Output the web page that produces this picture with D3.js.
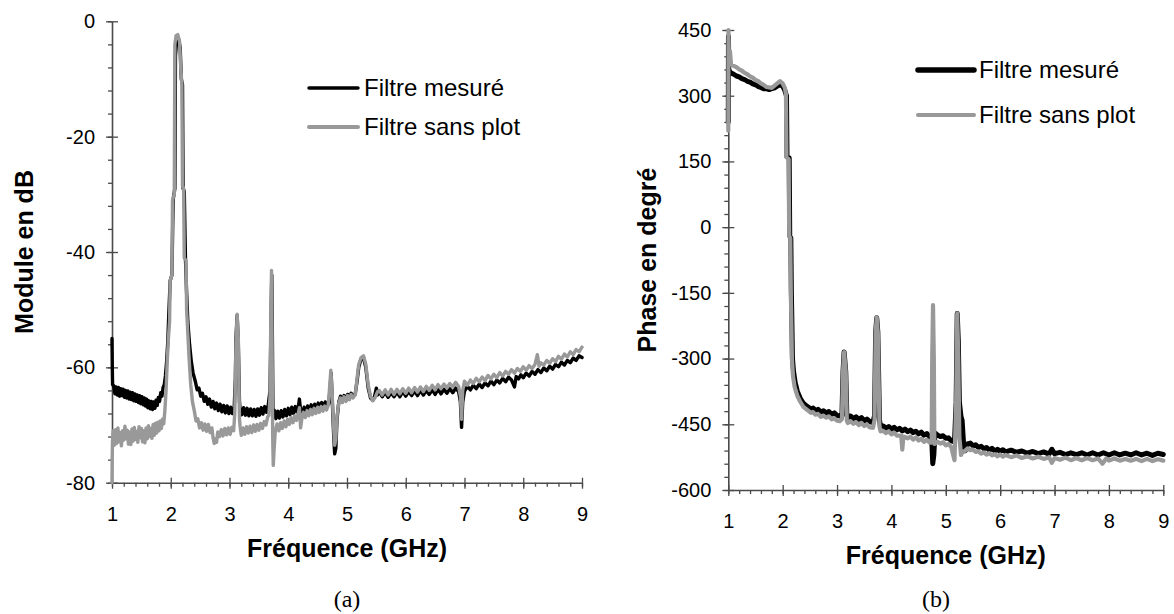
<!DOCTYPE html>
<html>
<head>
<meta charset="utf-8">
<script src="https://cdn.jsdelivr.net/npm/d3@7"></script>
<style>
  html, body { margin: 0; padding: 0; background: #fff; }
  svg { display: block; }
</style>
</head>
<body>
<svg id="fig" width="1174" height="614"></svg>
<script>
// ---- data : [frequency GHz, value] ----
const freqTicks = [1, 2, 3, 4, 5, 6, 7, 8, 9];
const moduleTicks = [0, -20, -40, -60, -80];
const phaseTicks = [450, 300, 150, 0, -150, -300, -450, -600];
const seriesNames = ["Filtre mesuré", "Filtre sans plot"];

// Module (dB) - measured filter
const moduleMesure = [
  [1.000,-55],[1.005,-60],[1.010,-63],
  [1.03,-63.2],[1.05,-64.6],[1.07,-63.4],[1.09,-64.8],[1.11,-63.5],[1.13,-65.0],[1.15,-63.7],[1.17,-64.9],
  [1.19,-63.8],[1.21,-65.2],[1.23,-64.0],[1.25,-65.3],[1.27,-64.1],[1.29,-65.5],[1.31,-64.3],[1.33,-65.6],
  [1.35,-64.4],[1.37,-65.8],[1.39,-64.6],[1.41,-65.9],[1.43,-64.8],[1.45,-66.1],[1.47,-64.9],[1.49,-66.3],
  [1.51,-65.1],[1.53,-66.5],[1.55,-65.3],[1.57,-66.7],[1.59,-65.5],[1.61,-67.0],[1.63,-65.8],[1.65,-67.2],
  [1.67,-65.9],[1.69,-67.3],[1.71,-66.0],[1.73,-67.1],[1.75,-65.7],[1.77,-66.6],[1.79,-65.2],[1.81,-65.9],
  [1.83,-64.4],[1.85,-65.0],[1.87,-63.5],[1.89,-63.0],
  [1.91,-61.5],[1.93,-59.0],[1.95,-55.5],[1.97,-50],[1.99,-45],[2.02,-44],[2.04,-31],[2.07,-29],
  [2.08,-6],[2.10,-3.5],[2.13,-3.0],[2.16,-4.5],[2.18,-10],[2.20,-11],[2.21,-29],[2.23,-29.5],
  [2.25,-41],[2.27,-47],[2.29,-52],[2.32,-56],[2.35,-59],[2.38,-61],
  [2.42,-62.5],[2.45,-63.9],[2.48,-63.6],[2.51,-65.0],[2.54,-64.5],[2.57,-65.9],[2.60,-65.1],[2.63,-66.4],
  [2.66,-65.5],[2.69,-66.9],[2.72,-65.9],[2.75,-67.2],[2.78,-66.2],[2.81,-67.5],[2.84,-66.4],[2.87,-67.7],
  [2.90,-66.6],[2.93,-67.9],[2.96,-66.7],[2.99,-68.0],[3.02,-66.9],[3.05,-68.0],[3.08,-67.0],
  [3.10,-62],[3.11,-55],[3.13,-51],[3.15,-56],[3.17,-66],
  [3.18,-67.2],[3.21,-68.2],[3.24,-67.0],[3.27,-68.3],[3.30,-67.1],[3.33,-68.4],[3.36,-67.2],[3.39,-68.4],
  [3.42,-67.3],[3.45,-68.5],[3.48,-67.2],[3.51,-68.3],[3.54,-67.0],[3.57,-68.1],[3.60,-66.8],[3.63,-67.8],
  [3.66,-66.5],[3.69,-64],[3.71,-50],[3.72,-44],[3.73,-55],[3.74,-68],
  [3.76,-67.4],[3.79,-68.9],[3.82,-67.6],[3.85,-68.8],[3.88,-67.5],[3.91,-68.6],[3.94,-67.3],[3.97,-68.4],
  [4.00,-67.1],[4.03,-68.2],[4.06,-66.9],[4.09,-68.0],[4.12,-66.8],[4.15,-67.7],[4.18,-66.3],[4.19,-65.5],
  [4.21,-67.5],[4.24,-68.3],[4.27,-66.9],[4.30,-67.9],[4.33,-66.7],[4.36,-67.7],[4.39,-66.5],[4.42,-67.5],
  [4.45,-66.4],[4.48,-67.3],[4.51,-66.2],[4.54,-67.2],[4.57,-66.1],[4.60,-67.0],[4.63,-66.0],[4.66,-66.8],
  [4.69,-66.3],[4.71,-64],[4.73,-61],[4.75,-66],[4.77,-71],[4.79,-75],[4.81,-74],[4.83,-69],[4.86,-66],
  [4.89,-65.0],[4.92,-66.0],[4.95,-64.9],[4.98,-65.8],[5.01,-64.7],[5.04,-65.5],[5.07,-64.5],[5.10,-65.2],
  [5.14,-64.6],[5.17,-62.5],[5.20,-60.0],[5.24,-58.5],[5.28,-58.3],[5.32,-60.0],[5.36,-63.5],[5.40,-65.3],
  [5.44,-65.7],[5.47,-65.0],[5.50,-63.6],[5.52,-64.8],
  [5.55,-64.2],[5.60,-65.1],[5.65,-64.3],[5.70,-65.2],[5.75,-64.4],[5.80,-65.1],[5.85,-64.3],[5.90,-65.1],
  [5.95,-64.2],[6.00,-65.0],[6.05,-64.2],[6.10,-64.9],[6.15,-64.1],[6.20,-64.9],[6.25,-64.0],[6.30,-64.8],
  [6.35,-64.0],[6.40,-64.7],[6.45,-63.9],[6.50,-64.7],[6.55,-63.8],[6.60,-64.6],[6.65,-63.8],[6.70,-64.5],
  [6.75,-63.7],[6.80,-64.4],[6.85,-63.6],[6.90,-64.2],[6.93,-66],[6.95,-70.4],[6.97,-66],[7.00,-64.1],
  [7.05,-63.3],[7.10,-63.9],[7.15,-63.1],[7.20,-63.7],[7.25,-62.9],[7.30,-63.5],[7.35,-62.7],[7.40,-63.2],
  [7.45,-62.4],[7.50,-63.0],[7.55,-62.2],[7.60,-62.7],[7.65,-61.9],[7.70,-62.5],[7.75,-61.7],[7.80,-62.2],
  [7.85,-63.4],[7.88,-61.6],[7.92,-62.0],[7.96,-61.3],[8.00,-61.8],[8.05,-61.0],[8.10,-61.5],[8.15,-60.7],
  [8.20,-61.2],[8.25,-60.4],[8.30,-60.9],[8.35,-60.1],[8.40,-60.6],[8.45,-59.8],[8.50,-60.3],[8.55,-59.5],
  [8.60,-59.9],[8.65,-59.1],[8.70,-59.6],[8.75,-58.8],[8.80,-59.2],[8.85,-58.4],[8.90,-58.8],[8.95,-58.0],
  [9.00,-58.3]
];

// Module (dB) - filter without pad
const moduleSansPlot = [
  [1.000,-80],[1.003,-76],[1.008,-73],
  [1.02,-71.0],[1.04,-73.5],[1.06,-70.8],[1.08,-73.2],[1.10,-70.5],[1.12,-72.9],[1.14,-71.3],[1.16,-73.6],
  [1.18,-71.0],[1.20,-72.6],[1.22,-70.2],[1.24,-72.4],[1.26,-70.9],[1.28,-73.3],[1.30,-71.2],[1.32,-73.4],
  [1.34,-70.7],[1.36,-72.8],[1.38,-70.4],[1.40,-72.5],[1.42,-71.1],[1.44,-73.0],[1.46,-70.3],[1.48,-72.2],
  [1.50,-70.6],[1.52,-72.9],[1.54,-71.0],[1.56,-73.1],[1.58,-70.5],[1.60,-72.4],[1.62,-70.1],[1.64,-72.0],
  [1.66,-70.6],[1.68,-72.3],[1.70,-69.9],[1.72,-71.8],[1.74,-69.7],[1.76,-71.4],[1.78,-69.5],[1.80,-71.0],
  [1.82,-69.3],[1.84,-70.6],[1.86,-69.0],[1.88,-69.8],[1.90,-67.5],
  [1.92,-64],[1.94,-59],[1.96,-55],[1.98,-52],[1.99,-45],[2.02,-44],
  [2.03,-31],[2.06,-30],[2.07,-4],[2.09,-2.5],[2.12,-2.3],[2.15,-3.5],[2.17,-8],[2.19,-11],
  [2.20,-28.5],[2.22,-29],[2.23,-41],[2.26,-41.5],[2.27,-50],[2.29,-54],[2.31,-58],[2.34,-63],
  [2.37,-66],[2.40,-67.5],
  [2.43,-69.3],[2.46,-68.9],[2.49,-70.5],[2.52,-69.6],[2.55,-70.9],[2.58,-69.8],[2.61,-71.1],[2.64,-69.9],
  [2.67,-71.3],[2.70,-70.5],[2.72,-72.2],[2.74,-73.2],[2.76,-72.4],[2.78,-73.0],[2.80,-71.2],[2.83,-72.0],
  [2.86,-70.8],[2.89,-71.9],[2.92,-70.6],[2.95,-71.7],[2.98,-70.5],[3.01,-71.6],[3.04,-70.4],[3.07,-71.0],
  [3.09,-68],[3.11,-56],[3.13,-50.8],[3.15,-55],[3.17,-69],
  [3.18,-70.2],[3.20,-71.8],[3.23,-70.5],[3.26,-71.6],[3.29,-70.3],[3.32,-71.4],[3.35,-70.2],[3.38,-71.3],
  [3.41,-70.0],[3.44,-71.1],[3.47,-69.9],[3.50,-70.9],[3.53,-69.7],[3.56,-70.6],[3.59,-69.4],[3.62,-70.0],
  [3.65,-68.6],[3.67,-68.3],[3.69,-65],[3.705,-50],[3.715,-43.2],[3.725,-55],[3.735,-72],[3.745,-77],
  [3.76,-74],[3.78,-71.0],[3.81,-69.8],[3.84,-71.0],[3.87,-69.6],[3.90,-70.6],[3.93,-69.3],[3.96,-70.3],
  [3.99,-69.0],[4.02,-69.9],[4.05,-68.7],[4.08,-69.6],[4.11,-68.4],[4.14,-69.2],[4.17,-68.0],[4.19,-67.0],
  [4.21,-70.5],[4.23,-69.0],[4.26,-67.8],[4.29,-68.7],[4.32,-67.5],[4.35,-68.4],[4.38,-67.3],[4.41,-68.2],
  [4.44,-67.1],[4.47,-68.0],[4.50,-66.9],[4.53,-67.8],[4.56,-66.8],[4.59,-67.6],[4.62,-66.7],[4.65,-67.4],
  [4.68,-66.6],[4.70,-64],[4.725,-60.5],[4.745,-64],[4.77,-70],[4.79,-73.5],[4.81,-72.5],[4.83,-68.5],
  [4.86,-66.2],[4.89,-65.3],[4.92,-66.1],[4.95,-65.1],[4.98,-65.9],[5.01,-64.9],[5.04,-65.6],[5.07,-64.7],
  [5.10,-65.3],[5.14,-64.8],[5.17,-62],[5.20,-59.5],[5.24,-58.3],[5.28,-58.0],[5.32,-59.5],[5.36,-63],
  [5.40,-65],[5.44,-65.8],[5.48,-65.2],[5.52,-64.2],
  [5.55,-64.0],[5.60,-64.8],[5.65,-63.9],[5.70,-64.8],[5.75,-63.8],[5.80,-64.7],[5.85,-63.8],[5.90,-64.6],
  [5.95,-63.7],[6.00,-64.5],[6.05,-63.6],[6.10,-64.4],[6.15,-63.5],[6.20,-64.3],[6.25,-63.4],[6.30,-64.2],
  [6.35,-63.3],[6.40,-64.0],[6.45,-63.1],[6.50,-63.9],[6.55,-63.0],[6.60,-63.7],[6.65,-62.9],[6.70,-63.6],
  [6.75,-62.8],[6.80,-63.4],[6.85,-62.6],[6.90,-63.3],[6.93,-65],[6.95,-69],[6.97,-64],[7.00,-62.4],
  [7.05,-63.1],[7.10,-62.2],[7.15,-62.8],[7.20,-61.9],[7.25,-62.5],[7.30,-61.7],[7.35,-62.3],[7.40,-61.4],
  [7.45,-62.0],[7.50,-61.2],[7.55,-61.8],[7.60,-60.9],[7.65,-61.5],[7.70,-60.7],[7.75,-61.2],[7.80,-60.4],
  [7.85,-61.0],[7.90,-60.2],[7.95,-60.7],[8.00,-59.9],[8.05,-60.5],[8.10,-59.7],[8.15,-60.2],[8.20,-59.5],
  [8.24,-57.8],[8.27,-59.8],[8.30,-59.2],[8.35,-59.6],[8.40,-58.8],[8.45,-59.3],[8.50,-58.5],[8.55,-59.0],
  [8.60,-58.1],[8.65,-58.6],[8.70,-57.7],[8.75,-58.2],[8.80,-57.3],[8.85,-57.8],[8.90,-56.9],[8.95,-57.3],
  [9.00,-56.5]
];

// Phase (degrees) - measured filter
const phaseMesure = [
  [1.000,240],[1.003,435],[1.008,362],[1.02,356],[1.05,352],[1.10,349],[1.15,345],[1.20,343],
  [1.25,339],[1.30,337],[1.35,333],[1.40,331],[1.45,327],[1.50,325],[1.55,321],[1.60,319],
  [1.65,316],[1.70,316],[1.75,314],[1.80,316],[1.85,318],[1.90,322],[1.95,326],[2.00,322],
  [2.04,312],[2.07,300],[2.08,160],[2.12,158],[2.13,-20],[2.15,-25],[2.16,-150],[2.17,-220],
  [2.18,-300],[2.20,-330],[2.23,-355],[2.27,-375],[2.32,-390],[2.38,-402],[2.45,-409],[2.52,-415],
  [2.56,-413],[2.60,-419],[2.65,-416],[2.70,-422],[2.75,-419],[2.80,-424],[2.85,-421],[2.90,-427],
  [2.95,-424],[3.00,-430],[3.05,-431],[3.09,-428],[3.11,-330],[3.13,-285],[3.16,-330],[3.18,-430],
  [3.20,-435],[3.25,-431],[3.30,-437],[3.35,-433],[3.40,-439],[3.45,-435],[3.50,-442],[3.55,-438],
  [3.60,-444],[3.66,-446],[3.69,-430],[3.71,-240],[3.73,-207],[3.75,-240],[3.78,-440],[3.80,-455],
  [3.85,-454],[3.90,-459],[3.95,-455],[4.00,-461],[4.05,-457],[4.10,-463],[4.15,-459],[4.20,-465],
  [4.25,-461],[4.30,-467],[4.35,-463],[4.40,-469],[4.45,-466],[4.50,-472],[4.55,-468],[4.60,-475],
  [4.65,-471],[4.70,-478],[4.74,-481],[4.76,-540],[4.78,-520],[4.80,-470],[4.85,-475],[4.90,-478],
  [4.95,-476],[5.00,-482],[5.05,-481],[5.10,-488],[5.16,-490],[5.19,-400],[5.21,-197],[5.23,-260],
  [5.25,-400],[5.28,-433],[5.30,-441],[5.33,-500],[5.36,-510],[5.40,-495],[5.45,-493],[5.50,-499],
  [5.55,-497],[5.60,-503],[5.65,-500],[5.70,-506],[5.75,-503],[5.80,-509],[5.85,-505],[5.90,-511],
  [5.95,-507],[6.00,-512],[6.05,-508],[6.10,-513],[6.20,-509],[6.30,-514],[6.40,-511],[6.50,-516],
  [6.60,-512],[6.70,-517],[6.80,-513],[6.90,-518],[6.95,-507],[7.00,-517],[7.10,-514],[7.20,-519],
  [7.30,-515],[7.40,-519],[7.50,-515],[7.60,-520],[7.70,-515],[7.80,-520],[7.90,-515],[8.00,-520],
  [8.10,-515],[8.20,-520],[8.30,-516],[8.40,-520],[8.50,-515],[8.60,-520],[8.70,-516],[8.80,-521],
  [8.90,-516],[9.00,-519]
];

// Phase (degrees) - filter without pad
const phaseSansPlot = [
  [1.000,220],[1.003,450],[1.01,390],[1.03,402],[1.05,372],[1.10,368],[1.15,365],[1.20,360],
  [1.25,357],[1.30,352],[1.35,349],[1.40,344],[1.45,341],[1.50,336],[1.55,333],[1.60,328],
  [1.65,325],[1.70,320],[1.75,319],[1.80,318],[1.85,323],[1.90,328],[1.95,333],[2.00,328],
  [2.04,318],[2.06,305],[2.07,160],[2.11,155],[2.12,-20],[2.14,-25],[2.15,-150],[2.16,-220],
  [2.17,-300],[2.19,-340],[2.22,-365],[2.27,-385],[2.32,-398],[2.38,-410],[2.45,-417],[2.52,-424],
  [2.56,-422],[2.60,-428],[2.65,-426],[2.70,-433],[2.75,-430],[2.80,-435],[2.85,-432],[2.90,-439],
  [2.95,-436],[3.00,-442],[3.05,-443],[3.09,-438],[3.11,-330],[3.13,-285],[3.16,-330],[3.18,-442],
  [3.20,-447],[3.25,-443],[3.30,-449],[3.35,-445],[3.40,-452],[3.45,-447],[3.50,-454],[3.55,-450],
  [3.60,-457],[3.66,-458],[3.69,-440],[3.71,-240],[3.73,-206],[3.75,-240],[3.78,-455],[3.80,-466],
  [3.85,-465],[3.90,-470],[3.95,-466],[4.00,-473],[4.05,-469],[4.10,-476],[4.18,-476],[4.20,-508],
  [4.22,-478],[4.30,-482],[4.35,-478],[4.40,-485],[4.45,-480],[4.50,-487],[4.55,-483],[4.60,-490],
  [4.65,-485],[4.70,-492],[4.74,-492],[4.75,-300],[4.765,-178],[4.78,-300],[4.79,-495],[4.85,-490],
  [4.90,-494],[4.95,-491],[5.00,-498],[5.05,-495],[5.10,-502],[5.16,-532],[5.19,-400],[5.21,-197],
  [5.23,-300],[5.25,-480],[5.28,-520],[5.30,-515],[5.36,-510],[5.40,-505],[5.45,-509],[5.50,-508],
  [5.55,-513],[5.60,-512],[5.65,-517],[5.70,-514],[5.75,-519],[5.80,-516],[5.85,-521],[5.90,-518],
  [5.95,-523],[6.00,-519],[6.05,-524],[6.10,-520],[6.20,-525],[6.30,-521],[6.40,-527],[6.50,-523],
  [6.60,-528],[6.70,-524],[6.80,-529],[6.90,-525],[6.95,-538],[7.00,-527],[7.10,-531],[7.20,-526],
  [7.30,-532],[7.40,-527],[7.50,-532],[7.60,-527],[7.70,-532],[7.80,-528],[7.88,-540],[7.95,-528],
  [8.00,-533],[8.10,-528],[8.20,-533],[8.30,-529],[8.40,-533],[8.50,-529],[8.60,-534],[8.70,-529],
  [8.80,-534],[8.90,-530],[9.00,-533]
];

// ---- drawing ----
const svg = d3.select("#fig");
const FONT = '"Liberation Sans", Arial, sans-serif';
const AXIS_COLOR = "#4a4a4a";

function minorValues(domain, step) {
  const out = [];
  const n = Math.round((domain[1] - domain[0]) / step);
  for (let i = 0; i <= n; i++) out.push(+(domain[0] + i * step).toFixed(6));
  return out;
}

function drawPanel(cfg) {
  const g = svg.append("g");
  const x = d3.scaleLinear().domain([1, 9]).range(cfg.xRange);
  const y = d3.scaleLinear().domain(cfg.yDomain).range(cfg.yRange);
  const x0 = cfg.xRange[0], yb = cfg.yRange[0];

  // minor ticks
  g.append("g").attr("transform", `translate(${x0},0)`)
    .call(d3.axisLeft(y).tickValues(minorValues(cfg.yDomain, cfg.yMinor)).tickSize(4).tickFormat(""))
    .call(a => a.select(".domain").remove());
  g.append("g").attr("transform", `translate(0,${yb})`)
    .call(d3.axisBottom(x).tickValues(minorValues([1, 9], 0.2)).tickSize(4).tickFormat(""))
    .call(a => a.select(".domain").remove());
  // major ticks crossing the axis line
  g.append("g").attr("transform", `translate(${x0},0)`)
    .call(d3.axisRight(y).tickValues(cfg.yTicks).tickSize(6).tickFormat(""))
    .call(a => a.select(".domain").remove());
  g.append("g").attr("transform", `translate(0,${yb})`)
    .call(d3.axisTop(x).tickValues(freqTicks).tickSize(5).tickFormat(""))
    .call(a => a.select(".domain").remove());
  // labelled axes (plain hyphen for negative values)
  g.append("g").attr("transform", `translate(${x0},0)`)
    .call(d3.axisLeft(y).tickValues(cfg.yTicks).tickSize(6).tickSizeOuter(0)
      .tickPadding(cfg.yPad).tickFormat(d => String(d)));
  g.append("g").attr("transform", `translate(0,${yb})`)
    .call(d3.axisBottom(x).tickValues(freqTicks).tickSize(6).tickSizeOuter(0)
      .tickPadding(cfg.xPad).tickFormat(d => String(d)));
  g.selectAll(".tick line").attr("stroke", AXIS_COLOR).attr("stroke-width", 1.3);
  g.selectAll(".domain").attr("stroke", AXIS_COLOR).attr("stroke-width", 1.6);
  g.selectAll(".tick text").attr("font-size", 20).attr("font-family", FONT).attr("fill", "#000");

  // series
  const line = d3.line().x(d => x(d[0])).y(d => y(d[1]));
  g.append("path").datum(cfg.black).attr("d", line)
    .attr("fill", "none").attr("stroke", "#000").attr("stroke-width", cfg.blackW)
    .attr("stroke-linejoin", "round").attr("stroke-linecap", "round");
  g.append("path").datum(cfg.gray).attr("d", line)
    .attr("fill", "none").attr("stroke", "#999").attr("stroke-width", cfg.grayW)
    .attr("stroke-linejoin", "round").attr("stroke-linecap", "round");

  // axis titles
  g.append("text").attr("x", (cfg.xRange[0] + cfg.xRange[1]) / 2).attr("y", cfg.xTitleY)
    .attr("text-anchor", "middle").attr("font-family", FONT).attr("font-weight", "bold")
    .attr("font-size", 25).text("Fréquence (GHz)");
  g.append("text")
    .attr("transform", `translate(${cfg.yTitleX},${(cfg.yRange[0] + cfg.yRange[1]) / 2}) rotate(-90)`)
    .attr("text-anchor", "middle").attr("dy", "0.35em").attr("font-family", FONT)
    .attr("font-weight", "bold").attr("font-size", 25).text(cfg.yTitle);
  // caption
  g.append("text").attr("x", cfg.captionX).attr("y", 607).attr("text-anchor", "middle")
    .attr("font-family", '"Liberation Serif", "Times New Roman", serif').attr("font-size", 24)
    .text(cfg.caption);

  // legend
  const lg = g.append("g");
  seriesNames.forEach((name, i) => {
    const ly = cfg.legend.y[i];
    lg.append("line").attr("x1", cfg.legend.x1).attr("x2", cfg.legend.x2)
      .attr("y1", ly).attr("y2", ly)
      .attr("stroke", i === 0 ? "#000" : "#999").attr("stroke-width", cfg.legend.w[i])
      .attr("stroke-linecap", "round");
    lg.append("text").attr("x", cfg.legend.tx).attr("y", ly).attr("dy", "0.35em")
      .attr("font-family", FONT).attr("font-size", 24).text(name);
  });
}

drawPanel({
  xRange: [112, 582], yDomain: [-80, 0], yRange: [482.7, 21.3],
  yTicks: moduleTicks, yMinor: 4, yPad: 11, xPad: 18,
  black: moduleMesure, gray: moduleSansPlot, blackW: 3.4, grayW: 3.4,
  xTitleY: 557, yTitle: "Module en dB", yTitleX: 24.5, caption: "(a)", captionX: 347,
  legend: { x1: 309, x2: 358, tx: 364, y: [88, 127], w: [3.5, 4] }
});

drawPanel({
  xRange: [728.3, 1163.3], yDomain: [-600, 450], yRange: [490, 30],
  yTicks: phaseTicks, yMinor: 30, yPad: 11, xPad: 18,
  black: phaseMesure, gray: phaseSansPlot, blackW: 5, grayW: 4.2,
  xTitleY: 564, yTitle: "Phase en degré", yTitleX: 647, caption: "(b)", captionX: 936,
  legend: { x1: 918, x2: 974, tx: 979, y: [70, 115], w: [5.5, 4] }
});
</script>
</body>
</html>
